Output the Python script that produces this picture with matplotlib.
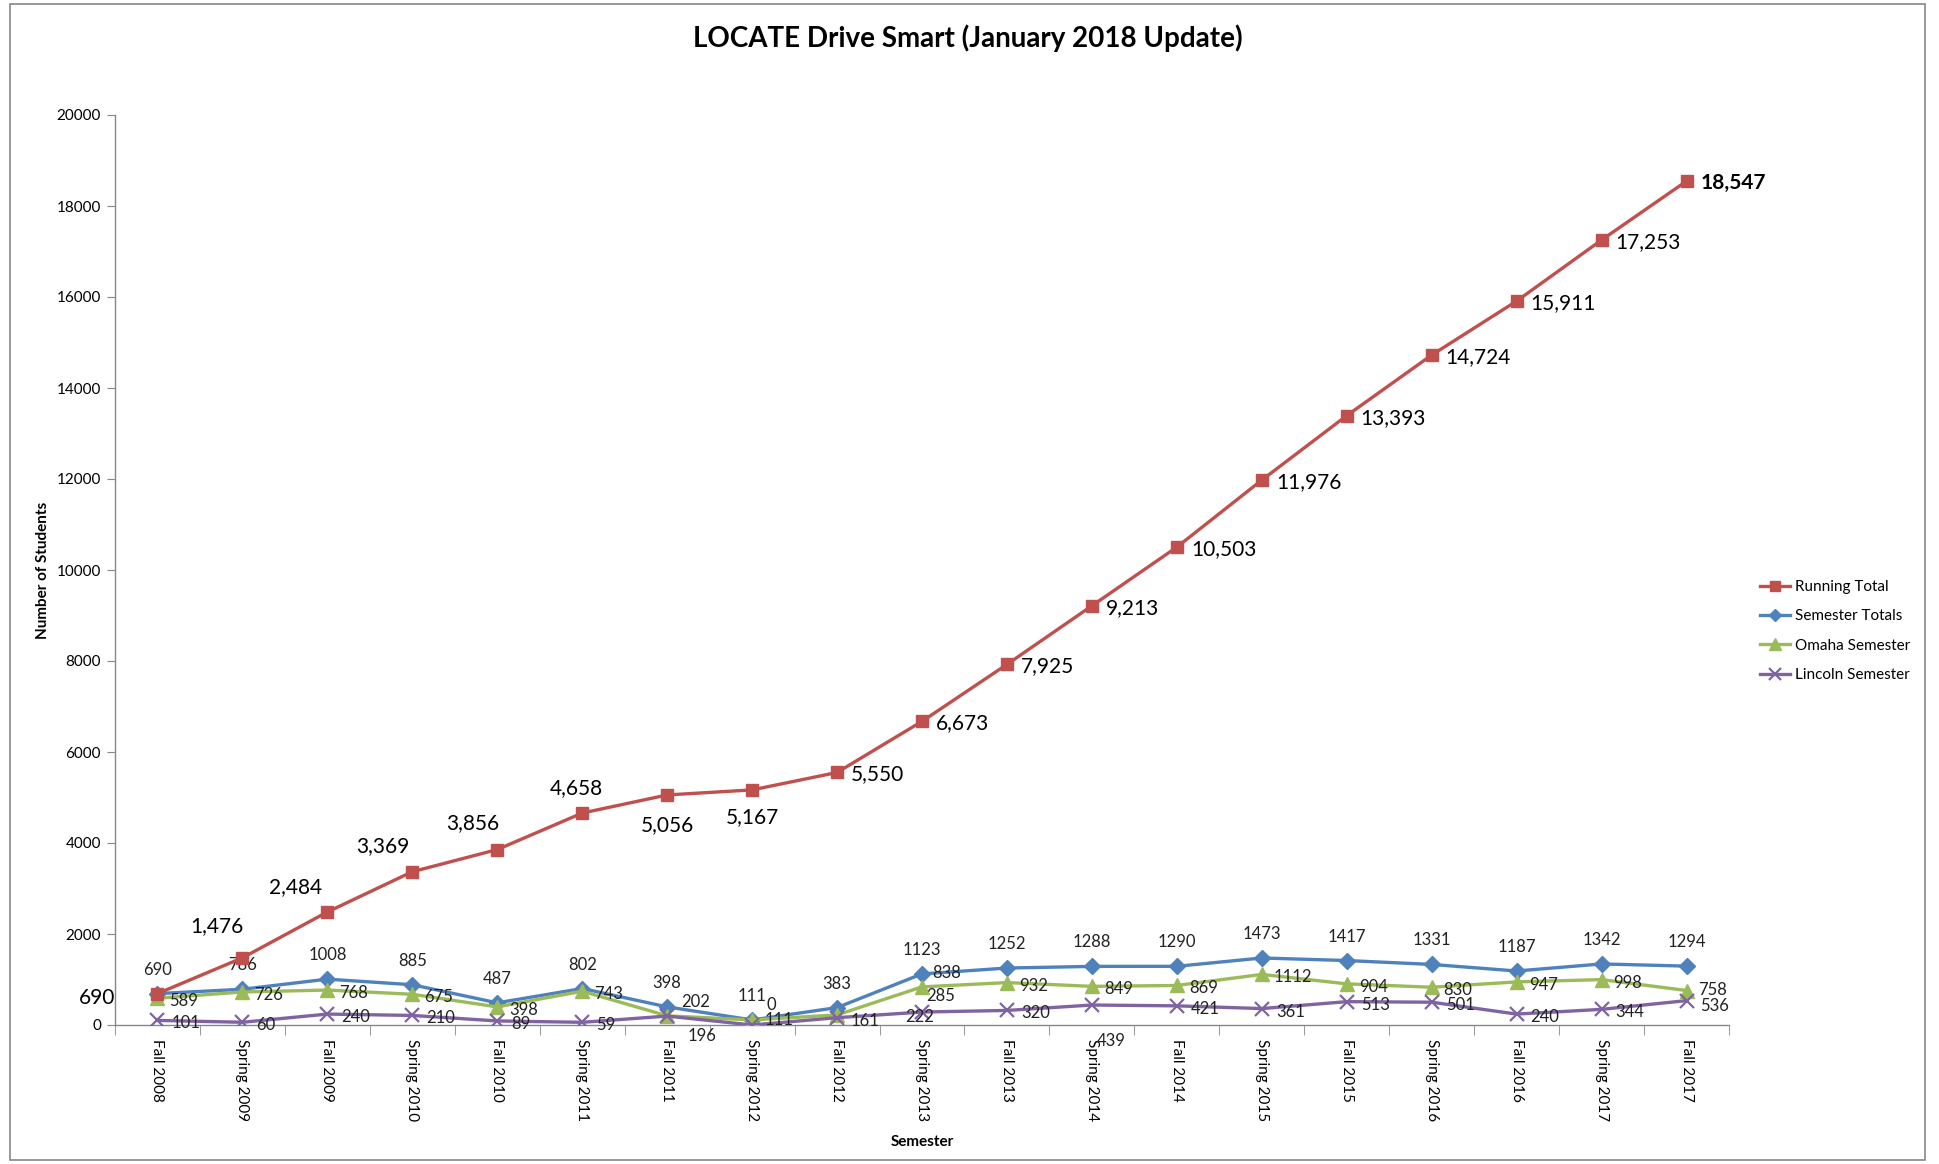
import matplotlib
matplotlib.use("Agg")
import matplotlib.pyplot as plt
from matplotlib.patches import Rectangle

plt.rcParams["font.family"] = ["Lato", "DejaVu Sans"]

semesters = [
    "Fall 2008", "Spring 2009", "Fall 2009", "Spring 2010", "Fall 2010",
    "Spring 2011", "Fall 2011", "Spring 2012", "Fall 2012", "Spring 2013",
    "Fall 2013", "Spring 2014", "Fall 2014", "Spring 2015", "Fall 2015",
    "Spring 2016", "Fall 2016", "Spring 2017", "Fall 2017",
]
running_total = [690, 1476, 2484, 3369, 3856, 4658, 5056, 5167, 5550, 6673,
                 7925, 9213, 10503, 11976, 13393, 14724, 15911, 17253, 18547]
semester_totals = [690, 786, 1008, 885, 487, 802, 398, 111, 383, 1123,
                   1252, 1288, 1290, 1473, 1417, 1331, 1187, 1342, 1294]
omaha = [589, 726, 768, 675, 398, 743, 202, 111, 222, 838,
         932, 849, 869, 1112, 904, 830, 947, 998, 758]
lincoln = [101, 60, 240, 210, 89, 59, 196, 0, 161, 285,
           320, 439, 421, 361, 513, 501, 240, 344, 536]
yticks = list(range(0, 20001, 2000))

RED = "#C0504D"
BLUE = "#4F81BD"
GREEN = "#9BBB59"
PURPLE = "#8064A2"

W, H = 1939, 1164
fig = plt.figure(figsize=(W / 100, H / 100), dpi=100)
ax = fig.add_axes([115 / W, 1 - 1025 / H, (1729 - 115) / W, (1025 - 115) / H])

x = list(range(len(semesters)))
lw = 2.4
ax.plot(x, running_total, color=RED, lw=lw, marker="s", ms=9, label="Running Total", zorder=4)
ax.plot(x, semester_totals, color=BLUE, lw=lw, marker="D", ms=8, label="Semester Totals", zorder=3)
ax.plot(x, omaha, color=GREEN, lw=lw, marker="^", ms=10, label="Omaha Semester", zorder=3)
ax.plot(x, lincoln, color=PURPLE, lw=lw, marker="x", ms=10, mew=1.6, label="Lincoln Semester", zorder=3)

# data labels (offsets in pixels)
rt_off = {0: (-60, -4, "center"), 1: (-26, 32, "center"), 2: (-32, 25, "center"),
          3: (-30, 26, "center"), 4: (-25, 26, "center"), 5: (-6, 25, "center"),
          6: (0, -30, "center"), 7: (0, -27, "center")}
for i, v in enumerate(running_total):
    dx, dy, ha = rt_off.get(i, (14, -2, "left"))
    last = i == len(running_total) - 1
    ax.annotate(f"{v:,}", (i, v), xytext=(dx, dy), textcoords="offset pixels",
                ha=ha, va="center", fontsize=15,
                fontweight="bold" if last else "normal", color="black")

for i, v in enumerate(semester_totals):
    ax.annotate(f"{v}", (i, v), xytext=(0, 24), textcoords="offset pixels",
                ha="center", va="center", fontsize=12, color="#222222")

om_off = {6: (14, 14), 7: (12, 0), 8: (68, -2), 9: (10, 14), 18: (12, 1)}
for i, v in enumerate(omaha):
    dx, dy = om_off.get(i, (12, -3))
    ax.annotate(f"{v}", (i, v), xytext=(dx, dy), textcoords="offset pixels",
                ha="left", va="center", fontsize=12, color="#222222")

li_off = {6: (20, -20), 7: (14, 20), 9: (4, 16), 11: (5, -36), 18: (14, -5)}
for i, v in enumerate(lincoln):
    dx, dy = li_off.get(i, (14, -3))
    ax.annotate(f"{v}", (i, v), xytext=(dx, dy), textcoords="offset pixels",
                ha="left", va="center", fontsize=12, color="#222222")

ax.set_xlim(-0.5, len(semesters) - 0.5)
ax.set_ylim(0, 20000)
ax.set_yticks(yticks)
ax.set_yticklabels([str(t) for t in yticks], fontsize=11)
ax.set_xticks(x)
ax.set_xticklabels(semesters, rotation=-90, fontsize=11)
ax.set_xticks([i - 0.5 for i in range(len(semesters) + 1)], minor=True)
ax.tick_params(axis="x", which="major", length=0, pad=10)
ax.tick_params(axis="x", which="minor", length=7, color="#888888")
ax.tick_params(axis="y", length=6, color="#888888", pad=4)
for side in ("top", "right"):
    ax.spines[side].set_visible(False)
for side in ("left", "bottom"):
    ax.spines[side].set_color("#888888")
    ax.spines[side].set_linewidth(1.0)

ax.set_xlabel("Semester", fontsize=11, fontweight="bold", labelpad=10)
ax.set_ylabel("Number of Students", fontsize=11, fontweight="bold", labelpad=5)

fig.text(968 / W, 1 - 38 / H, "LOCATE Drive Smart (January 2018 Update)",
         ha="center", va="center", fontsize=20, fontweight="bold")

leg = ax.legend(loc="center left", bbox_to_anchor=(1752 / W, 1 - 631 / H),
                bbox_transform=fig.transFigure, frameon=False, fontsize=11,
                handlelength=2.0, handletextpad=0.3, labelspacing=1.0,
                borderpad=0, markerscale=0.8)

fig.add_artist(Rectangle((10 / W, 4 / H), (1925 - 10) / W, (1160 - 4) / H,
                         transform=fig.transFigure, fill=False,
                         edgecolor="#888888", lw=1.2))

fig.savefig("out.png", dpi=100)
